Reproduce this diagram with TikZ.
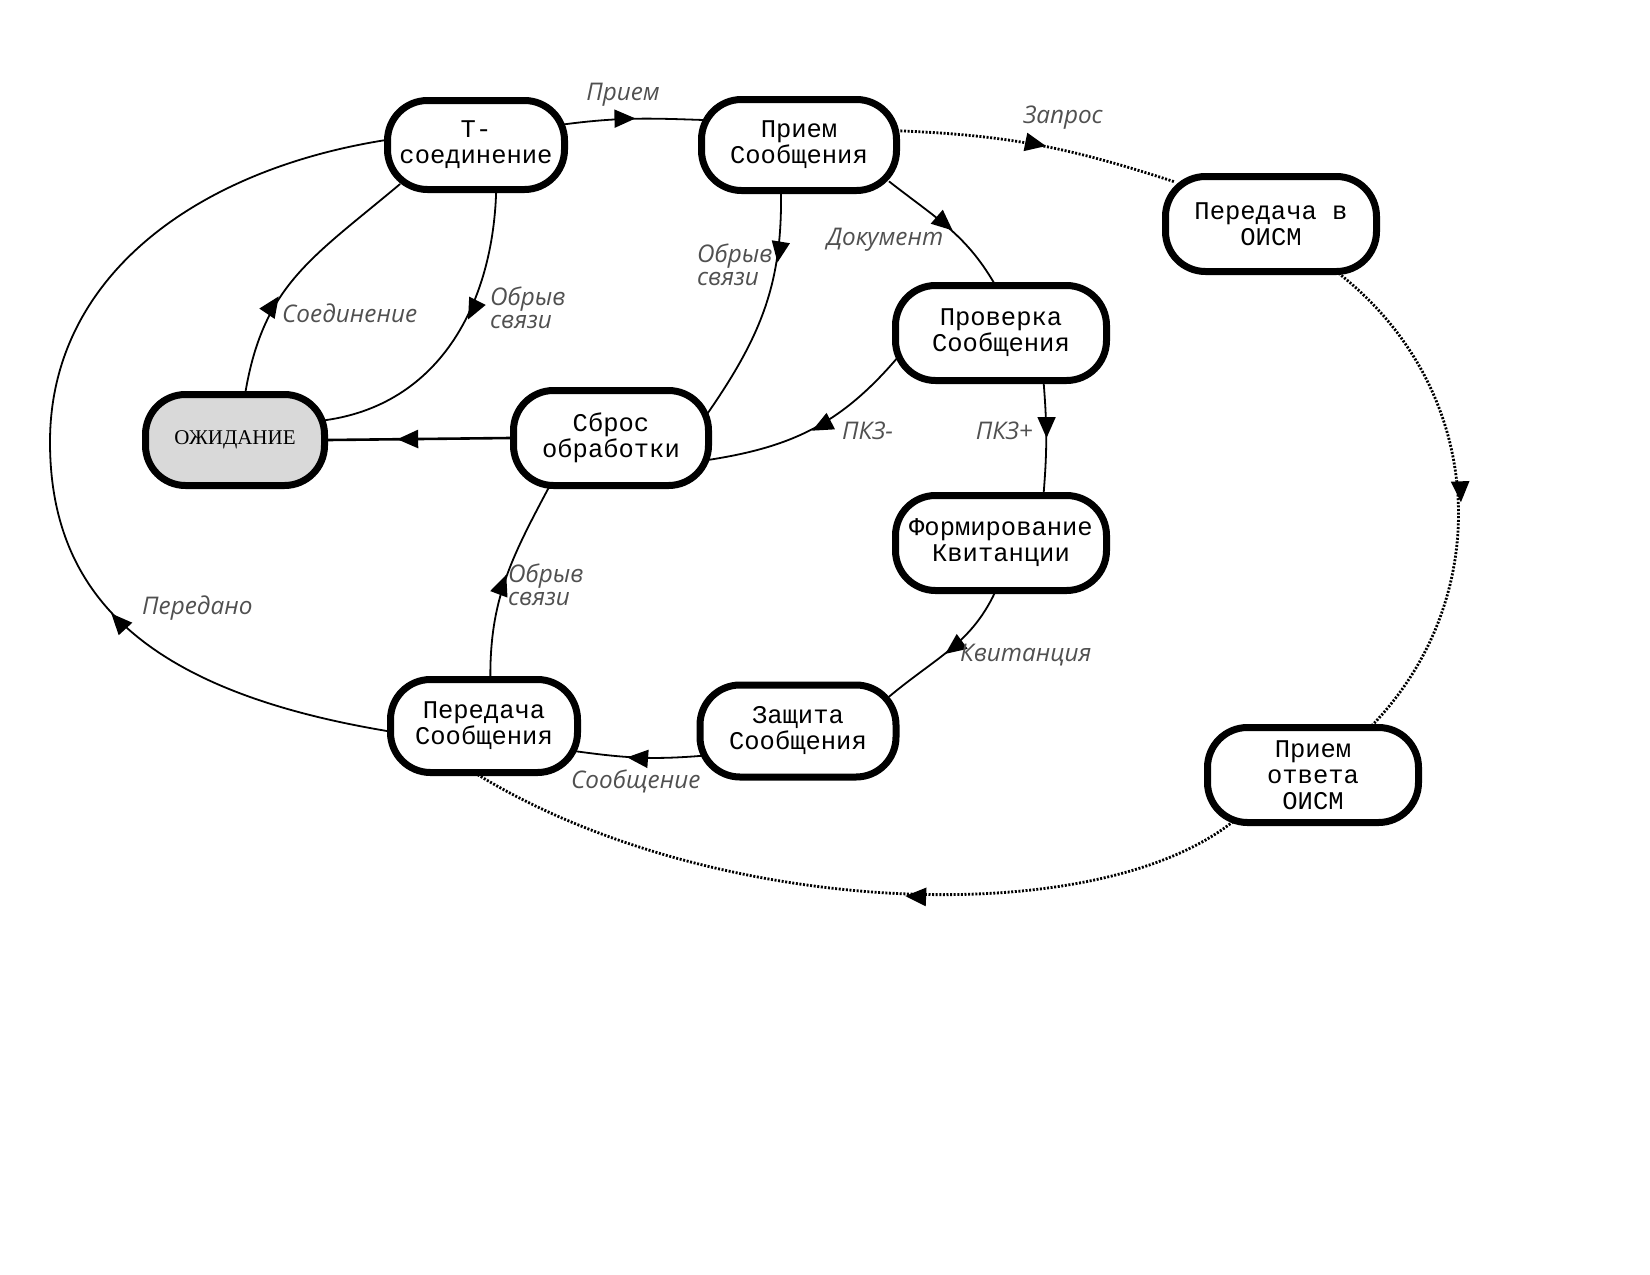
\documentclass[tikz,border=0pt]{standalone}
\usepackage{fontspec}
\setmainfont{Liberation Serif}
\setmonofont{Liberation Mono}
\newfontfamily\lblfamily{Open Sans}
\usetikzlibrary{arrows.meta,decorations.markings,backgrounds}
\definecolor{lblgray}{HTML}{505050}
\definecolor{waitgray}{HTML}{D9D9D9}
\newcommand\stfont{\ttfamily\fontsize{25.5}{26}\selectfont}
\newcommand\waitfont{\rmfamily\fontsize{21}{24}\selectfont}
\newcommand\lblfont{\lblfamily\itshape\fontsize{24.3}{23.5}\selectfont}
\tikzset{
  state/.style={draw, line width=7pt, rounded corners=40pt, fill=white, align=center, font=\stfont, inner sep=0pt},
  lbl/.style={font=\lblfont, text=lblgray, align=left, inner sep=0pt},
  edge/.style={line width=1.8pt, shorten <=-14pt, shorten >=-14pt},
  dotedge/.style={line width=2.8pt, dash pattern=on 2pt off 1.6pt, shorten <=-14pt, shorten >=-14pt},
  marr/.style={postaction={decorate,decoration={markings,mark=at position #1 with {\arrow{Triangle[length=21pt,width=18pt]}}}}},
}
\begin{document}
\begin{tikzpicture}[x=1pt,y=1pt]
\useasboundingbox (0,0) rectangle (1650,-1275);
% states
\node[state, minimum width=177pt, minimum height=89pt] (T) at (476,-145) {Т-\\соединение};
\node[state, minimum width=195pt, minimum height=91pt] (PS) at (799,-145) {Прием\\Сообщения};
\node[state, minimum width=211pt, minimum height=95pt] (PO) at (1271,-224) {Передача в\\ОИСМ};
\node[state, minimum width=211pt, minimum height=95pt] (PR) at (1001,-333) {Проверка\\Сообщения};
\node[state, minimum width=179pt, minimum height=91pt, fill=waitgray, font=\waitfont] (W) at (235,-440) {ОЖИДАНИЕ};
\node[state, minimum width=195pt, minimum height=95pt] (SB) at (611,-438) {Сброс\\обработки};
\node[state, minimum width=211pt, minimum height=95pt] (FK) at (1001,-543) {Формирование\\Квитанции};
\node[state, minimum width=187pt, minimum height=93pt] (PSM) at (484,-726) {Передача\\Сообщения};
\node[state, minimum width=196pt, minimum height=92pt] (ZS) at (798,-731) {Защита\\Сообщения};
\node[state, minimum width=211pt, minimum height=95pt] (PA) at (1313,-775) {Прием\\ответа\\ОИСМ};
\coordinate (farleft) at (50,-442);
% edges
\begin{scope}[on background layer]
\draw[edge, marr=0.52] (T.13) to[out=8,in=178] (PS.166);
\draw[dotedge, marr=0.55] (PS.8) to[out=-2,in=162] (PO.157);
\draw[dotedge, marr=0.52] (PO.-36) .. controls +(150,-110) and +(125,120) .. (PA.40);
\draw[dotedge, marr=0.43] (PA.211) .. controls +(-129,-110) and +(221,-141) .. (PSM.265);
\draw[edge, marr=0.5] (PS.-24) to[out=-38,in=118] (PR.98);
\draw[edge, marr=0.3] (PS.250) to[out=-88,in=55] (SB.17);
\draw[edge, marr=0.5] (PR.-50) to[out=-85,in=85] (FK.50);
\draw[edge, marr=0.5] (PR.196) to[out=-130,in=8] (SB.-12);
\draw[edge, marr=0.58] (FK.263) to[out=-112,in=40] (ZS.23);
\draw[edge, marr=0.6] (ZS.194) to[out=185,in=-8] (PSM.-15);
\draw[edge, marr=0.52] (PSM.83) to[out=92,in=-118] (SB.219);
\draw[edge, marr=0.31] (PSM.183) .. controls +(-225,35) and +(0,-165) .. (farleft)
   .. controls +(0,170) and +(-180,-25) .. (T.177);
\draw[edge, line width=2.6pt, marr=0.62] (SB.180) -- (W.0);
\draw[edge, marr=0.4] (W.78) to[out=82,in=-140,looseness=1.1] (T.209);
\draw[edge, marr=0.42] (T.-67) to[out=-90,in=5] (W.12);
\end{scope}
% labels
\node[lbl] (lPriem) at (623,-95) {Прием};
\node[lbl] (lZapros) at (1063,-118) {Запрос};
\node[lbl] (lDok) at (885,-240) {Документ};
\node[lbl, anchor=west] (lObr1) at (697,-265) {Обрыв\\связи};
\node[lbl, anchor=west] (lSoed) at (282,-313) {Соединение};
\node[lbl, anchor=west] (lObr2) at (490,-308) {Обрыв\\связи};
\node[lbl, anchor=west] (lPkzm) at (842,-431) {ПКЗ-};
\node[lbl, anchor=east] (lPkzp) at (1033,-431) {ПКЗ+};
\node[lbl, anchor=west] (lObr3) at (508,-585) {Обрыв\\связи};
\node[lbl, anchor=west] (lPered) at (142,-608) {Передано};
\node[lbl, anchor=west] (lKvit) at (960,-655) {Квитанция};
\node[lbl, anchor=west] (lSoob) at (571,-781) {Сообщение};
\end{tikzpicture}
\end{document}
